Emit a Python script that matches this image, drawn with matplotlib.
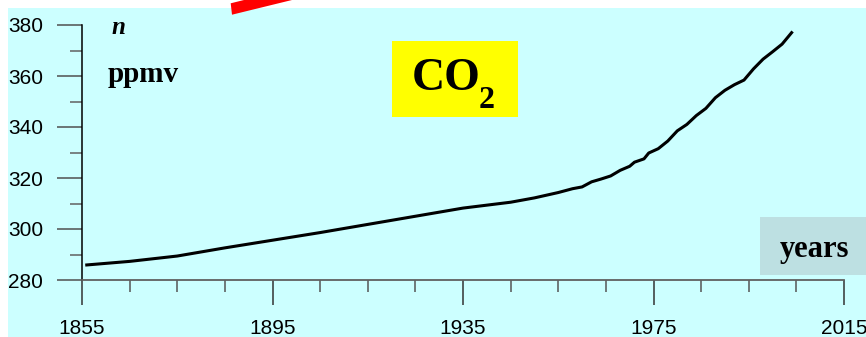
import matplotlib
matplotlib.use("Agg")
import matplotlib.pyplot as plt
from matplotlib.patches import Rectangle, Polygon
from matplotlib.ticker import FixedLocator

years = [1856, 1865, 1875, 1885, 1895, 1905, 1915, 1925, 1935, 1945, 1950,
         1955, 1958, 1960, 1962, 1964, 1966, 1968, 1970, 1971, 1973, 1974,
         1976, 1978, 1980, 1982, 1984, 1986, 1988, 1990, 1992, 1994, 1996,
         1998, 2000, 2002, 2004]
co2 = [285.9, 287.3, 289.4, 292.6, 295.6, 298.6, 301.8, 305.0, 308.2, 310.5,
       312.2, 314.3, 315.8, 316.5, 318.5, 319.6, 320.8, 323.0, 324.6, 326.2,
       327.5, 329.8, 331.5, 334.5, 338.5, 341.0, 344.5, 347.3, 351.5, 354.4,
       356.6, 358.4, 362.8, 366.6, 369.5, 372.5, 377.0]
x_ticks = [1855, 1895, 1935, 1975, 2015]
x_minor = [1865, 1875, 1885, 1905, 1915, 1925, 1945, 1955, 1965, 1985, 1995, 2005]
y_ticks = [280, 300, 320, 340, 360, 380]
y_minor = [290, 310, 330, 350, 370]

plt.rcParams["font.family"] = ["Liberation Sans", "DejaVu Sans"]

W, H = 866, 337
fig = plt.figure(figsize=(W / 100, H / 100), dpi=100, facecolor="white")

def fx(px):
    return px / W

def fy(py):
    return 1 - py / H

# cyan background panel
fig.add_artist(Rectangle((fx(8), 0), 1 - fx(8), fy(8), transform=fig.transFigure,
                         facecolor="#CCFFFF", edgecolor="none", zorder=0))

# red fragment at top
fig.add_artist(Polygon([(fx(232), fy(14.7)), (fx(292), fy(0)), (fx(244), fy(0)),
                        (fx(230.7), fy(3.3))], closed=True, transform=fig.transFigure,
                       facecolor="#FF0000", edgecolor="none", zorder=1))

ax = fig.add_axes([fx(82), fy(280), fx(844) - fx(82), fy(25) - fy(280)])
ax.patch.set_alpha(0)
ax.plot(years, co2, color="black", lw=2.2, clip_on=False, solid_joinstyle="round")
ax.set_xlim(1855, 2015)
ax.set_ylim(280, 380)
ax.set_xticks(x_ticks)
ax.set_yticks(y_ticks)
ax.xaxis.set_minor_locator(FixedLocator(x_minor))
ax.yaxis.set_minor_locator(FixedLocator(y_minor))
for s in ["top", "right"]:
    ax.spines[s].set_visible(False)
ax.spines["left"].set_color("black")
ax.spines["left"].set_linewidth(1.1)
ax.spines["bottom"].set_color("#606060")
ax.spines["bottom"].set_linewidth(1.3)

ax.tick_params(axis="x", which="major", direction="out", length=18, width=1.1,
               color="#333333", pad=10, labelsize=15, labelcolor="black")
ax.tick_params(axis="x", which="minor", direction="out", length=8.6, width=1.1,
               color="#555555")
ax.tick_params(axis="y", which="major", direction="out", length=18, width=1.1,
               color="#505050", pad=10, labelsize=15, labelcolor="black")
ax.tick_params(axis="y", which="minor", direction="out", length=8.6, width=1.1,
               color="#606060")

# texts
fig.text(fx(118), fy(27), "n", family="Liberation Serif", weight="bold", style="italic",
         size=18, ha="center", va="center")
fig.text(fx(108), fy(82), "ppmv", family="Liberation Serif", weight="bold",
         size=21, ha="left", va="baseline")

fig.add_artist(Rectangle((fx(392), fy(117)), fx(518) - fx(392), fy(41) - fy(117),
                         transform=fig.transFigure, facecolor="#FFFF00",
                         edgecolor="none", zorder=2))
fig.text(fx(412), fy(90), "CO", family="Liberation Serif", weight="bold",
         size=33, ha="left", va="baseline", zorder=3)
fig.text(fx(479), fy(108), "2", family="Liberation Serif", weight="bold",
         size=23, ha="left", va="baseline", zorder=3)

fig.add_artist(Rectangle((fx(760), fy(275)), 1 - fx(760), fy(217) - fy(275),
                         transform=fig.transFigure, facecolor="#BDE0E2",
                         edgecolor="none", zorder=2))
fig.text(fx(815), fy(257), "years", family="Liberation Serif", weight="bold",
         size=22, ha="center", va="baseline", zorder=3)

fig.savefig("out.png", dpi=100, facecolor="white")
